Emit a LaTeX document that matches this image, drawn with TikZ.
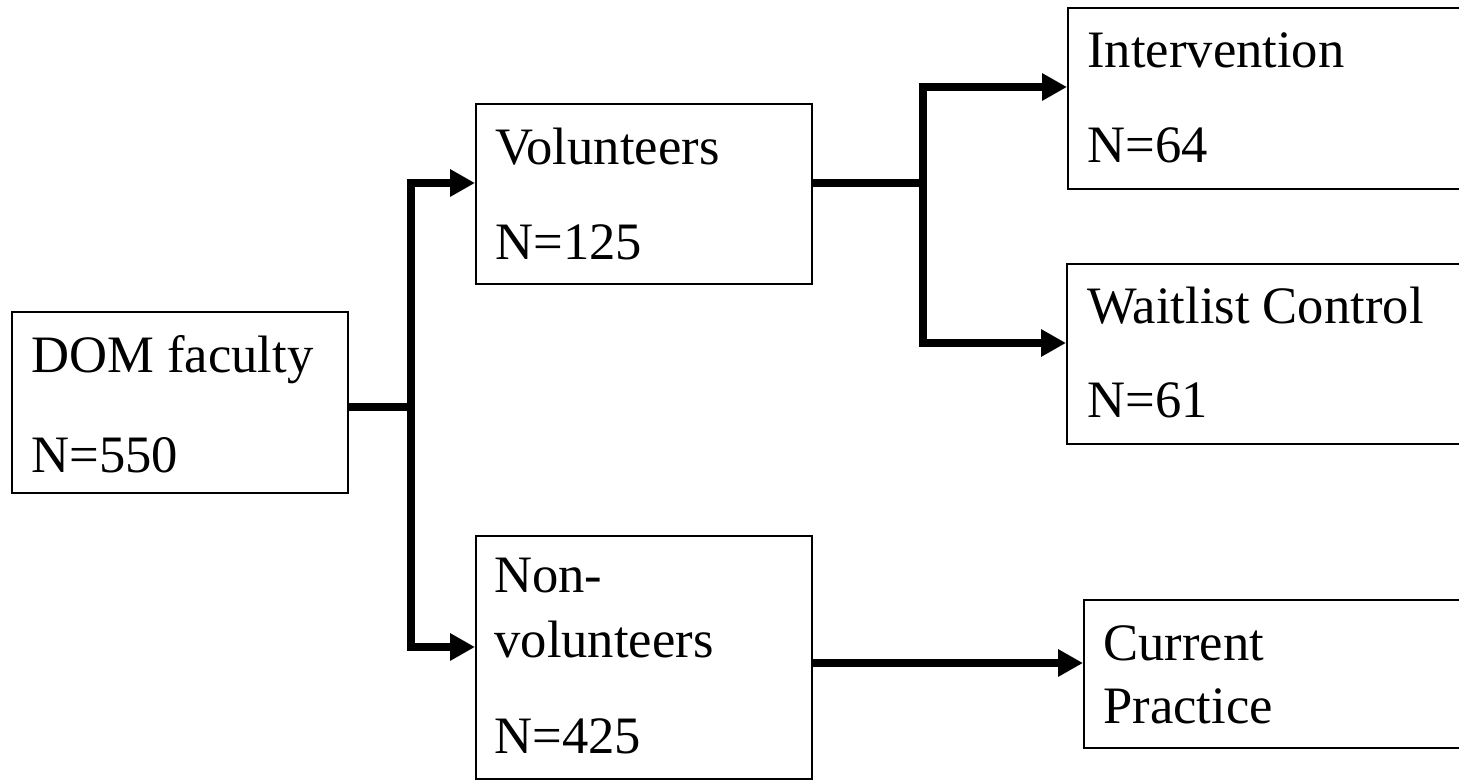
\documentclass[tikz,border=0pt]{standalone}
\usepackage{fontspec}
\setmainfont{Liberation Serif}
\usetikzlibrary{arrows.meta}
\begin{document}
\begin{tikzpicture}[x=0.5pt,y=-0.5pt,
  box/.style={draw=black,line width=0.8pt,inner sep=0pt,anchor=north west},
  lbl/.style={anchor=base west,inner sep=0pt,font=\fontsize{26.3}{30}\selectfont},
  conn/.style={line width=4pt,line join=miter},
  arr/.style={conn,-{Triangle[length=12.5pt,width=13pt]}},
  darr/.style={conn,{Triangle[length=12.5pt,width=13pt]}-{Triangle[length=12.5pt,width=13pt]}}]
\useasboundingbox (0,0) rectangle (1459,780);
\clip (0,0) rectangle (1459,780);
\fill[white] (0,0) rectangle (1459,780);
% boxes
\node[box,minimum width=168pt,minimum height=90.5pt] (dom) at (11,311) {};
\node[box,minimum width=168pt,minimum height=90pt] (vol) at (475,103) {};
\node[box,minimum width=168pt,minimum height=121.5pt] (nonvol) at (475,535) {};
\node[box,minimum width=206.5pt,minimum height=90.5pt] (interv) at (1067,7) {};
\node[box,minimum width=207pt,minimum height=90pt] (wait) at (1066,263) {};
\node[box,minimum width=198.5pt,minimum height=74pt] (cur) at (1083,599) {};
% texts
\node[lbl] (t1a) at (31,372) {DOM faculty};
\node[lbl] (t1b) at (31,472) {N=550};
\node[lbl] (t2a) at (495,165) {Volunteers};
\node[lbl] (t2b) at (495,260) {N=125};
\node[lbl] (t3a) at (494,592) {Non-};
\node[lbl] (t3b) at (494,657) {volunteers};
\node[lbl] (t3c) at (494,753) {N=425};
\node[lbl] (t4a) at (1087,68) {Intervention};
\node[lbl] (t4b) at (1087,163) {N=64};
\node[lbl] (t5a) at (1087,323) {Waitlist Control};
\node[lbl] (t5b) at (1087,417) {N=61};
\node[lbl] (t6a) at (1103,660) {Current};
\node[lbl] (t6b) at (1103,723) {Practice};
% junctions
\coordinate (j1) at (411,407);
\coordinate (j1t) at (411,183);
\coordinate (j1b) at (411,647);
\coordinate (j2) at (923,183);
\coordinate (j2t) at (923,87);
\coordinate (j2b) at (923,343);
\coordinate (j3) at (950,663);
% connectors
\draw[conn] (dom.east |- j1) -- (j1);
\draw[darr] (vol.west |- j1t) -- (j1t) -- (j1b) -- (nonvol.west |- j1b);
\draw[conn] (vol.east |- j2) -- (j2);
\draw[darr] (interv.west |- j2t) -- (j2t) -- (j2b) -- (wait.west |- j2b);
\draw[arr] (nonvol.east |- j3) -- (cur.west |- j3);
\end{tikzpicture}
\end{document}
